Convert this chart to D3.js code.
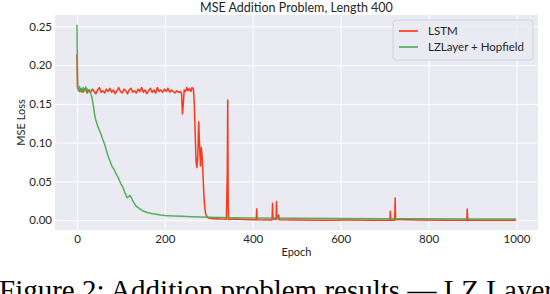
<!DOCTYPE html>
<html><head><meta charset="utf-8">
<script src="https://cdn.jsdelivr.net/npm/d3@7"></script>
<style>
html,body{margin:0;padding:0;background:#fff;}
svg{display:block;}
</style></head>
<body>
<svg id="chart" width="550" height="294"></svg>
<script>
// ---- data ----
const lstmEpochs = [0,1,3,6,9,12,15,19,23,27,31,35,39,43,47,51,55,59,63,67,71,75,79,83,87,91,95,99,103,107,111,115,119,123,127,131,135,139,143,147,151,155,159,163,167,171,175,179,183,187,191,195,199,203,207,211,215,219,223,227,231,235,238,240,242,244,247,250,253,256,259,262,265,267,269,271,273,275,277,279,281,283,285,287,289,291,293,296,300,310,320,330,340,342,343,344,345,360,380,400,408,409,410,430,444,445,446,453,454,455,458,459,460,500,560,620,680,712,713,714,723,724,725,780,840,887,888,889,940,999];
const lstmLoss = [0.214,0.172,0.168,0.166,0.169,0.165,0.167,0.170,0.164,0.168,0.165,0.169,0.166,0.163,0.168,0.171,0.165,0.167,0.164,0.169,0.166,0.170,0.165,0.168,0.163,0.167,0.171,0.166,0.164,0.169,0.167,0.163,0.168,0.170,0.165,0.167,0.164,0.169,0.166,0.171,0.165,0.168,0.163,0.167,0.170,0.165,0.168,0.164,0.171,0.166,0.168,0.165,0.169,0.166,0.170,0.165,0.168,0.166,0.164,0.167,0.165,0.166,0.163,0.137,0.150,0.168,0.166,0.171,0.167,0.170,0.166,0.171,0.169,0.150,0.110,0.075,0.068,0.085,0.127,0.095,0.070,0.094,0.080,0.055,0.030,0.015,0.008,0.004,0.003,0.002,0.002,0.0015,0.0012,0.060,0.155,0.020,0.001,0.0015,0.001,0.0005,0.0005,0.0144,0.0005,0.0003,0.0003,0.022,0.002,0.001,0.0243,0.003,0.002,0.0068,0.0005,0.0002,0.0,0.0002,0.0,0.0,0.0115,0.0,0.0,0.0285,0.001,0.0002,0.0,0.0,0.0144,0.0,0.0001,0.0];
const hopEpochs = [0,1,2,4,6,8,10,12,14,16,18,20,22,24,26,28,30,32,34,36,38,40,42,45,48,51,54,57,60,63,66,69,72,76,80,84,88,92,96,100,104,108,111,114,117,120,123,126,130,135,140,145,150,160,170,180,190,200,220,240,260,280,300,350,400,500,600,700,800,900,999];
const hopLoss = [0.252,0.200,0.172,0.168,0.172,0.166,0.170,0.167,0.171,0.166,0.169,0.172,0.167,0.169,0.166,0.168,0.165,0.162,0.158,0.152,0.145,0.137,0.131,0.125,0.120,0.116,0.112,0.107,0.102,0.098,0.092,0.086,0.081,0.075,0.069,0.066,0.061,0.057,0.052,0.047,0.043,0.037,0.033,0.029,0.030,0.032,0.030,0.026,0.022,0.018,0.016,0.014,0.012,0.010,0.0088,0.0078,0.0068,0.0062,0.0055,0.0050,0.0045,0.0042,0.0038,0.0033,0.0028,0.0024,0.0021,0.0019,0.0018,0.0017,0.0016];
const seriesNames = ["LSTM", "LZLayer + Hopfield"];
const xTicks = [0,200,400,600,800,1000];
const yTicks = [0.00,0.05,0.10,0.15,0.20,0.25];
const titleText = "MSE Addition Problem, Length 400";
const captionText = "Figure 2: Addition problem results \u2014 LZ Layer + Hopfield";

// ---- layout ----
const svg = d3.select("#chart");
const L = 55, R = 538, T = 15, B = 230;
const colors = ["#ff2400", "#45a84f"];
const font = "Lato, 'DejaVu Sans', sans-serif";
const textColor = "#262626";

const x = d3.scaleLinear().domain([-50, 1049]).range([L, R]);
const y = d3.scaleLinear().domain([-0.0126, 0.2646]).range([B, T]);

svg.append("rect").attr("x", L).attr("y", T).attr("width", R - L).attr("height", B - T).attr("fill", "#eaeaf2");

const gx = svg.append("g").attr("transform", `translate(0,${B})`)
  .call(d3.axisBottom(x).tickValues(xTicks).tickFormat(d3.format("d")).tickSize(-(B - T)).tickPadding(5));
const gy = svg.append("g").attr("transform", `translate(${L},0)`)
  .call(d3.axisLeft(y).tickValues(yTicks).tickFormat(d3.format(".2f")).tickSize(-(R - L)).tickPadding(3));
[gx, gy].forEach(g => {
  g.select(".domain").remove();
  g.selectAll(".tick line").attr("stroke", "#ffffff").attr("stroke-width", 1);
  g.selectAll(".tick text").attr("fill", textColor).style("font-family", font).style("font-size", "11.5px");
});

svg.append("clipPath").attr("id", "clipPlot").append("rect")
  .attr("x", L).attr("y", T).attr("width", R - L).attr("height", B - T);

const line = d3.line().x(d => x(d[0])).y(d => y(d[1]));
const series = [
  lstmEpochs.map((e, i) => [e, lstmLoss[i]]),
  hopEpochs.map((e, i) => [e, hopLoss[i]])
];
const plot = svg.append("g").attr("clip-path", "url(#clipPlot)");
series.forEach((s, i) => {
  plot.append("path").datum(s).attr("d", line)
    .attr("fill", "none").attr("stroke", colors[i]).attr("stroke-width", 1.5)
    .attr("stroke-linejoin", "round").attr("stroke-opacity", 0.9);
});

// title & labels
svg.append("text").attr("x", (L + R) / 2).attr("y", 12).attr("text-anchor", "middle")
  .attr("fill", textColor).style("font-family", font).style("font-size", "12.5px").text(titleText);
svg.append("text").attr("x", (L + R) / 2).attr("y", 256).attr("text-anchor", "middle")
  .attr("fill", textColor).style("font-family", font).style("font-size", "11px").text("Epoch");
svg.append("text").attr("transform", `translate(25,${(T + B) / 2}) rotate(-90)`).attr("text-anchor", "middle")
  .attr("fill", textColor).style("font-family", font).style("font-size", "11px").text("MSE Loss");

// legend
const lg = svg.append("g");
lg.append("rect").attr("x", 393).attr("y", 20).attr("width", 140).attr("height", 40).attr("rx", 3)
  .attr("fill", "#eaeaf2").attr("fill-opacity", 0.8).attr("stroke", "#cccccc").attr("stroke-width", 0.8);
seriesNames.forEach((n, i) => {
  const yy = 31 + i * 16;
  lg.append("line").attr("x1", 399).attr("x2", 418).attr("y1", yy).attr("y2", yy)
    .attr("stroke", colors[i]).attr("stroke-width", 1.5);
  lg.append("text").attr("x", 428).attr("y", yy + 4).attr("fill", textColor)
    .style("font-family", font).style("font-size", "11.5px").text(n);
});

// caption (cut off by the bottom edge, as in the reference)
svg.append("text").attr("x", -1).attr("y", 300).attr("fill", "#000")
  .style("font-family", "'Liberation Serif', 'Times New Roman', serif").style("font-size", "29px").text(captionText);
</script>
</body></html>
